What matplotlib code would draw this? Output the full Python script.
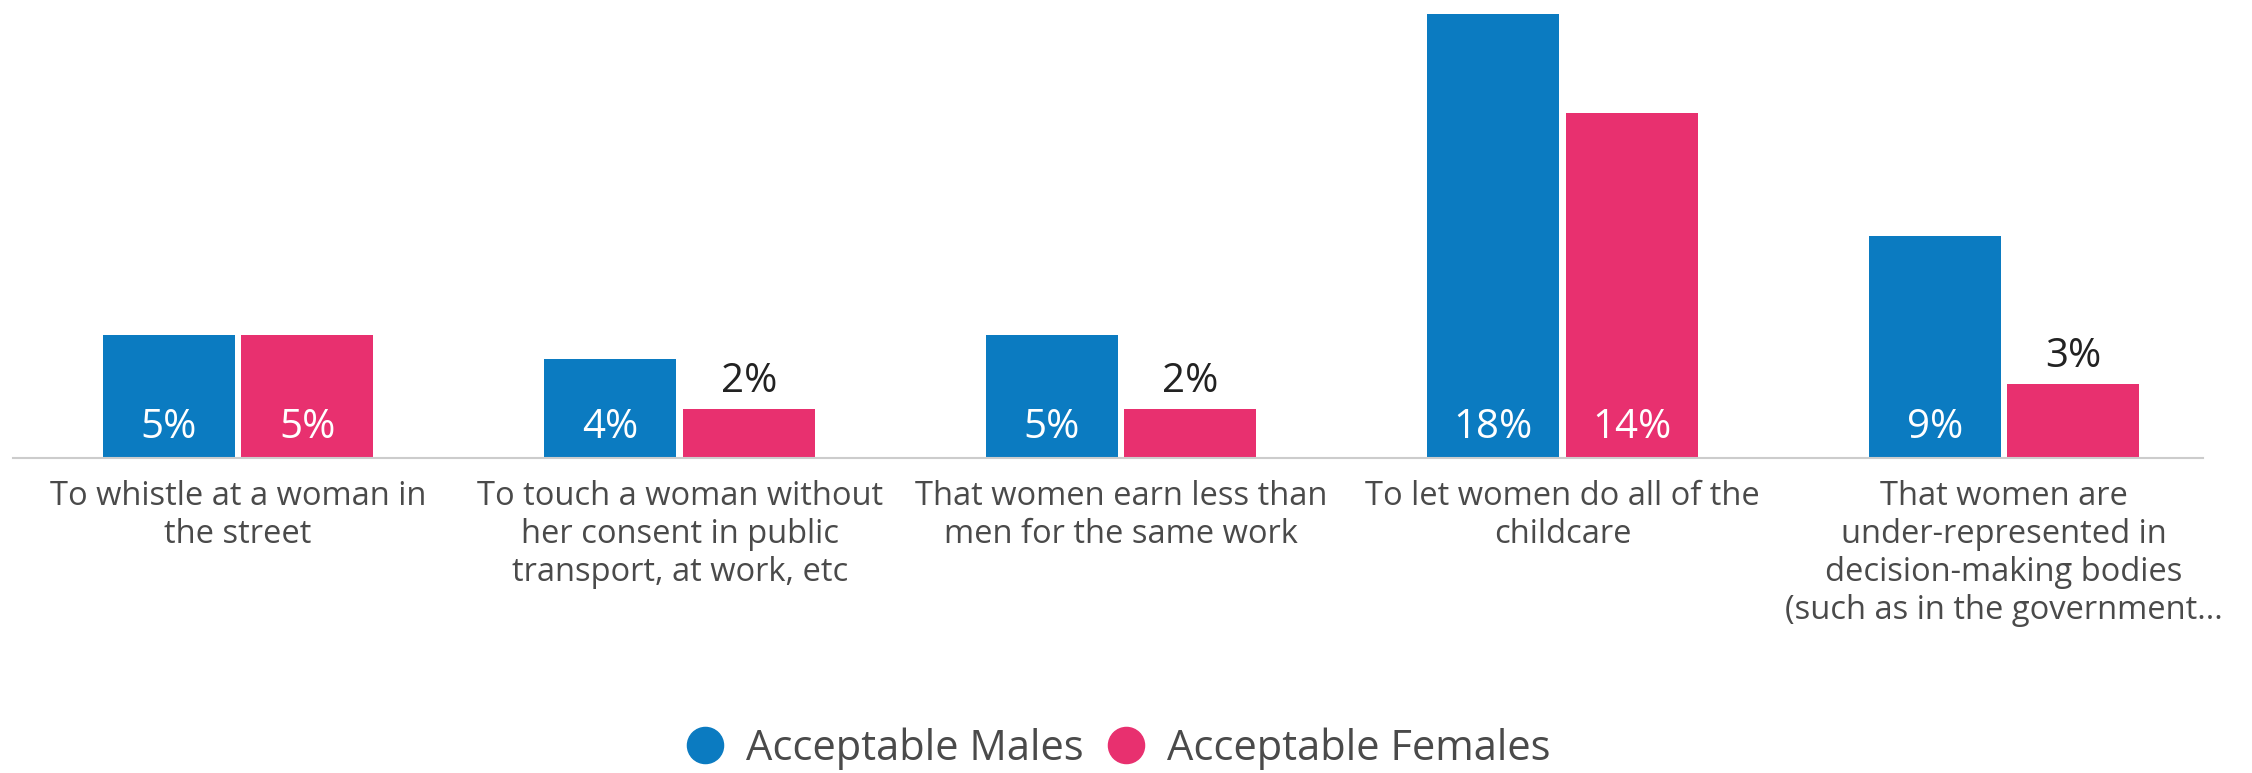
import matplotlib
matplotlib.use("Agg")
import matplotlib.pyplot as plt
import matplotlib.transforms as mtransforms
from matplotlib.lines import Line2D
import numpy as np

plt.rcParams['font.family'] = ['Open Sans', 'DejaVu Sans']

# data
categories = [
    "To whistle at a woman in\nthe street",
    "To touch a woman without\nher consent in public\ntransport, at work, etc",
    "That women earn less than\nmen for the same work",
    "To let women do all of the\nchildcare",
    "That women are\nunder-represented in\ndecision-making bodies\n(such as in the government...",
]
males = [5, 4, 5, 18, 9]
females = [5, 2, 2, 14, 3]
series_names = ["Acceptable Males", "Acceptable Females"]

blue = '#0b7bc1'
pink = '#e8306f'
text_col = '#4a4a4a'

fig = plt.figure(figsize=(22.52, 7.73), dpi=100)
ax = fig.add_axes([0.00577, 0.4075, 0.9724, 0.5744])

x = np.arange(len(categories))
w = 0.299
off = 0.157

bars_m = ax.bar(x - off, males, w, color=blue)
bars_f = ax.bar(x + off, females, w, color=pink)

ax.set_xlim(-0.51, 4.45)
ax.set_ylim(0, 18)

# value labels: inside (white) for tall bars, above (dark) for short ones
for bars, vals in ((bars_m, males), (bars_f, females)):
    for b, v in zip(bars, vals):
        cx = b.get_x() + b.get_width() / 2
        if v >= 4:
            ax.annotate(f"{v}%", (cx, 0), xytext=(0, 7), textcoords='offset points',
                        ha='center', va='bottom', color='white', fontsize=29)
        else:
            ax.annotate(f"{v}%", (cx, v), xytext=(0, 5), textcoords='offset points',
                        ha='center', va='bottom', color='#222222', fontsize=29)

# category labels under the axis line
trans = mtransforms.blended_transform_factory(ax.transData, ax.transAxes)
for xi, lab in zip(x, categories):
    ax.annotate(lab, (xi, 0), xycoords=trans, xytext=(0, -16), textcoords='offset points',
                ha='center', va='top', color=text_col, fontsize=23.5, linespacing=1.2)

for s in ['top', 'right', 'left']:
    ax.spines[s].set_visible(False)
ax.spines['bottom'].set_color('#cccccc')
ax.spines['bottom'].set_linewidth(1.5)
ax.set_xticks([])
ax.set_yticks([])

handles = [Line2D([], [], marker='o', linestyle='none', markersize=26, color=c)
           for c in (blue, pink)]
fig.legend(handles, series_names, loc='center', bbox_to_anchor=(0.4915, 0.032),
           ncol=2, frameon=False, fontsize=30, handletextpad=0.0, columnspacing=0.0,
           labelcolor=text_col)

fig.savefig('out.png', dpi=100)
